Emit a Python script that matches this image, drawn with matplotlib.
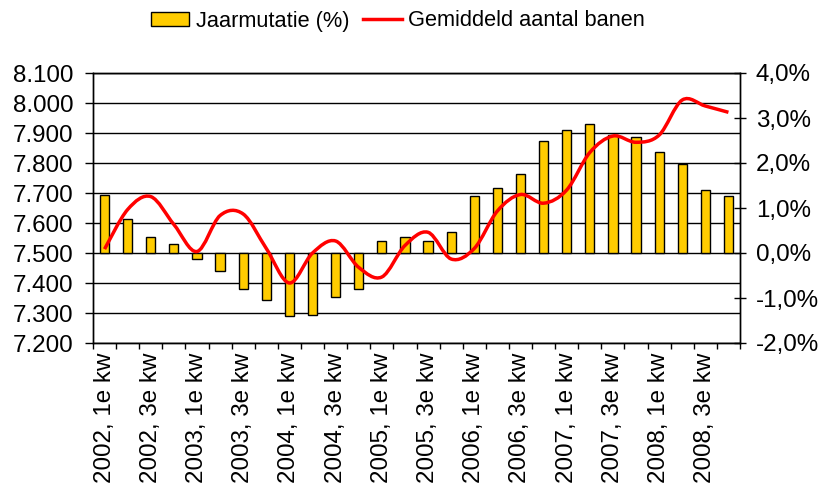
import matplotlib
matplotlib.use("Agg")
import matplotlib.pyplot as plt
from matplotlib.path import Path
from matplotlib.patches import PathPatch
from matplotlib.lines import Line2D
from matplotlib.patches import Patch
from matplotlib.ticker import FuncFormatter, FixedLocator
import numpy as np

plt.rcParams['font.family'] = ['Liberation Sans', 'DejaVu Sans']

# kwartalen 2002 t/m 2008
years = [2002, 2003, 2004, 2005, 2006, 2007, 2008]
quarters = ['1e', '2e', '3e', '4e']
categories = ['%d, %s kw' % (y, q) for y in years for q in quarters]

# jaarmutatie in % (rechter as)
jaarmutatie = [1.30, 0.76, 0.36, 0.19, -0.13, -0.39, -0.79, -1.04,
               -1.41, -1.37, -0.97, -0.79, 0.27, 0.36, 0.27, 0.46,
               1.26, 1.44, 1.75, 2.50, 2.73, 2.86, 2.62, 2.58,
               2.24, 1.97, 1.39, 1.26]

# gemiddeld aantal banen x 1000 (linker as)
banen = [7513, 7645, 7688, 7595, 7505, 7625, 7630, 7515,
         7400, 7500, 7540, 7452, 7420, 7525, 7569, 7480,
         7515, 7640, 7695, 7666, 7710, 7835, 7890, 7869,
         7893, 8010, 7990, 7969]

yel = '#FFCC00'
red = '#FF0000'
fs = 17.4


# gladde lijn zoals excel: bezier door de punten
def smooth_path(xs, ys):
    pts = np.column_stack([xs, ys]).astype(float)
    n = len(pts)
    verts = [pts[0]]
    codes = [Path.MOVETO]
    for i in range(n - 1):
        p0 = pts[max(i - 1, 0)]
        p1 = pts[i]
        p2 = pts[i + 1]
        p3 = pts[min(i + 2, n - 1)]
        c1 = p1 + (p2 - p0) / 6.0
        c2 = p2 - (p3 - p1) / 6.0
        verts += [c1, c2, p2]
        codes += [Path.CURVE4] * 3
    return Path(verts, codes)


fig = plt.figure(figsize=(8.36, 4.84), dpi=100)
ax = fig.add_axes([93 / 836, 1 - 343 / 484, (740 - 93) / 836, 270 / 484])
ax2 = ax.twinx()

x = np.arange(len(categories))

# linker as: banen + rasterlijnen
ax.set_ylim(7200, 8100)
ax.set_yticks(np.arange(7200, 8101, 100))
ax.yaxis.set_major_formatter(FuncFormatter(lambda v, p: '{:,.0f}'.format(v).replace(',', '.')))
ax.grid(axis='y', color='black', lw=1)
ax.set_axisbelow(True)
ax.tick_params(axis='y', direction='out', length=6, width=1, labelsize=fs, pad=8)

# rechter as: jaarmutatie
ax2.set_ylim(-2, 4)
ax2.set_yticks(np.arange(-2, 4.01, 1))
ax2.yaxis.set_major_formatter(FuncFormatter(lambda v, p: ('%.1f%%' % v).replace('.', ',')))
ax2.tick_params(axis='y', direction='inout', length=9, width=1, labelsize=fs, pad=7)

ax2.bar(x, jaarmutatie, width=0.4, color=yel, edgecolor='black', lw=1, zorder=2)
line_patch = PathPatch(smooth_path(x, banen), facecolor='none', edgecolor=red,
                       lw=2.5, transform=ax.transData, zorder=3)
ax2.add_patch(line_patch)

ax.set_xlim(-0.5, len(categories) - 0.5)
ax.xaxis.set_major_locator(FixedLocator(x[::2]))
ax.set_xticklabels(categories[::2], rotation=90, fontsize=fs)
ax.xaxis.set_minor_locator(FixedLocator(np.arange(-0.5, len(categories), 1)))
ax.tick_params(axis='x', which='major', length=0, pad=7)
ax.tick_params(axis='x', which='minor', direction='out', length=4, width=1)

for a in (ax, ax2):
    for s in a.spines.values():
        s.set_color('black')
        s.set_linewidth(1)

handles = [Patch(facecolor=yel, edgecolor='black', lw=1, label='Jaarmutatie (%)'),
           Line2D([0], [0], color=red, lw=2.5, label='Gemiddeld aantal banen')]
fig.legend(handles=handles, loc='center', bbox_to_anchor=(398 / 836, 1 - 21 / 484), ncol=2,
           frameon=False, fontsize=15.7, handlelength=1.75, handleheight=0.65,
           columnspacing=0.65, handletextpad=0.3)

fig.savefig('out.png', dpi=100)
